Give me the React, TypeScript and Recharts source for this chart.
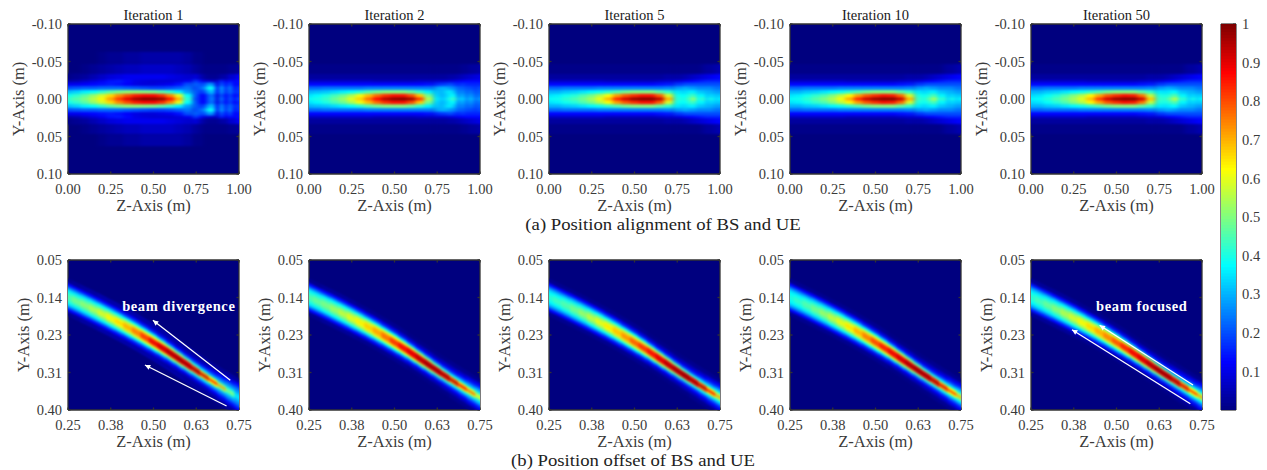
import { CartesianGrid, ReferenceDot, ReferenceLine, Scatter, ScatterChart, XAxis, YAxis } from "recharts";

const FONT = "'Liberation Serif', 'Times New Roman', serif";
const TEXT = "#3a3a3a";
const FRAME = "#333333";

// jet colormap stops: [value, r, g, b]
const jetStops = [
  [0, 0, 0, 127],
  [0.125, 0, 0, 255],
  [0.375, 0, 255, 255],
  [0.625, 255, 255, 0],
  [0.875, 255, 0, 0],
  [1, 127, 0, 0],
];

const topTitles = ["Iteration 1", "Iteration 2", "Iteration 5", "Iteration 10", "Iteration 50"];
const topYTicks = [-0.1, -0.05, 0, 0.05, 0.1];
const topYLabels = ["-0.10", "-0.05", "0.00", "0.05", "0.10"];
const topXTicks = [0, 0.25, 0.5, 0.75, 1];
const topXLabels = ["0.00", "0.25", "0.50", "0.75", "1.00"];
const botYTicks = [0.05, 0.1375, 0.225, 0.3125, 0.4];
const botYLabels = ["0.05", "0.14", "0.23", "0.31", "0.40"];
const botXTicks = [0.25, 0.375, 0.5, 0.625, 0.75];
const botXLabels = ["0.25", "0.38", "0.50", "0.63", "0.75"];
const barTicks = [0.1, 0.2, 0.3, 0.4, 0.5, 0.6, 0.7, 0.8, 0.9, 1];
const barLabels = ["0.1", "0.2", "0.3", "0.4", "0.5", "0.6", "0.7", "0.8", "0.9", "1"];

// row = |y| offset from axis, one list of percent values per offset
const topZ = [0, 0.05, 0.1, 0.15, 0.2, 0.25, 0.3, 0.35, 0.4, 0.45, 0.5, 0.55, 0.6, 0.65, 0.7, 0.75, 0.775, 0.8, 0.825, 0.85, 0.875, 0.9, 0.925, 0.95, 0.975, 1];
const topOffsets = [0, 0.005, 0.01, 0.015, 0.02, 0.025, 0.03, 0.04, 0.055];

const iter1Top = [
  [43, 46, 50, 56, 63, 72, 82, 90, 97, 100, 100, 98, 86, 70, 42, 20, 14, 12, 22, 26, 10, 26, 12, 22, 14, 20],
  [39, 42, 46, 52, 58, 66, 74, 80, 85, 87, 87, 83, 74, 60, 38, 22, 14, 12, 22, 24, 10, 22, 12, 20, 12, 16],
  [31, 33, 36, 38, 42, 46, 49, 51, 51, 50, 49, 46, 42, 36, 28, 22, 18, 20, 30, 32, 14, 28, 16, 24, 16, 18],
  [20, 21, 22, 22, 23, 23, 23, 22, 21, 20, 19, 19, 20, 22, 24, 20, 22, 26, 38, 38, 14, 30, 16, 26, 14, 18],
  [11, 11, 12, 13, 14, 15, 14, 12, 10, 9, 9, 10, 11, 14, 20, 22, 20, 20, 28, 26, 10, 22, 14, 20, 12, 14],
  [4, 5, 7, 9, 11, 14, 15, 13, 10, 9, 8, 8, 8, 9, 11, 18, 14, 9, 9, 7, 8, 16, 10, 14, 12, 14],
  [1, 2, 3, 5, 7, 9, 10, 11, 11, 11, 11, 11, 10, 9, 8, 9, 6, 3, 2, 2, 2, 4, 4, 8, 8, 12],
  [0, 0, 1, 2, 3, 4, 5, 6, 6, 7, 7, 7, 7, 6, 5, 3, 2, 1, 1, 1, 1, 1, 1, 2, 2, 3],
  [0, 0, 0, 0, 1, 2, 2, 3, 3, 4, 4, 4, 4, 4, 3, 1, 1, 0, 0, 0, 0, 0, 0, 0, 0, 0],
];
const iter2Top = [
  [38, 40, 43, 48, 53, 60, 67, 77, 87, 95, 99, 100, 97, 82, 55, 36, 32, 34, 40, 44, 30, 34, 26, 32, 24, 28],
  [35, 37, 40, 44, 48, 54, 61, 69, 77, 83, 86, 86, 80, 68, 48, 34, 30, 32, 36, 38, 26, 30, 24, 28, 22, 24],
  [30, 31, 32, 34, 36, 38, 41, 45, 48, 50, 50, 50, 47, 42, 36, 32, 30, 33, 36, 32, 24, 26, 22, 24, 20, 22],
  [23, 23, 24, 24, 24, 24, 24, 25, 25, 25, 25, 25, 25, 25, 25, 28, 30, 30, 28, 26, 22, 22, 20, 20, 18, 20],
  [13, 13, 13, 13, 13, 13, 13, 13, 13, 13, 13, 13, 13, 13, 14, 16, 18, 18, 20, 18, 16, 18, 16, 16, 16, 16],
  [7, 7, 7, 7, 7, 7, 7, 7, 6, 6, 6, 6, 6, 7, 7, 8, 8, 8, 9, 10, 11, 12, 13, 13, 13, 13],
  [3, 3, 3, 3, 3, 3, 3, 3, 3, 3, 3, 3, 3, 3, 3, 3, 3, 3, 4, 4, 5, 6, 7, 8, 9, 10],
  [1, 1, 1, 1, 1, 1, 1, 1, 1, 1, 1, 1, 1, 1, 1, 1, 1, 1, 1, 1, 1, 2, 2, 3, 3, 4],
];
const iter5Top = [
  [38, 39, 42, 45, 49, 54, 61, 70, 84, 92, 98, 100, 100, 94, 70, 42, 40, 40, 46, 54, 38, 44, 34, 40, 34, 36],
  [35, 36, 39, 41, 45, 49, 55, 62, 72, 79, 83, 86, 86, 78, 58, 40, 38, 38, 42, 44, 36, 38, 32, 34, 32, 32],
  [30, 30, 32, 33, 35, 37, 39, 42, 45, 48, 50, 50, 50, 46, 42, 36, 34, 34, 36, 36, 32, 32, 30, 30, 28, 28],
  [23, 23, 24, 24, 24, 24, 25, 25, 25, 25, 25, 25, 25, 25, 26, 28, 28, 30, 28, 28, 26, 26, 26, 26, 24, 24],
  [13, 13, 13, 13, 13, 13, 13, 13, 13, 13, 13, 13, 13, 14, 15, 18, 18, 20, 20, 20, 20, 20, 20, 20, 20, 20],
  [7, 7, 7, 7, 7, 7, 7, 6, 6, 6, 6, 6, 6, 7, 8, 9, 10, 11, 12, 13, 14, 15, 16, 16, 16, 16],
  [3, 3, 3, 3, 3, 3, 3, 3, 3, 3, 3, 3, 3, 3, 4, 4, 4, 5, 6, 7, 8, 9, 10, 11, 12, 13],
  [1, 1, 1, 1, 1, 1, 1, 1, 1, 1, 1, 1, 1, 1, 1, 1, 1, 1, 1, 1, 1, 2, 3, 3, 4, 5],
];
const iter10Top = [
  [38, 39, 42, 46, 50, 55, 62, 71, 84, 93, 98, 100, 100, 93, 70, 44, 41, 42, 50, 56, 40, 44, 34, 40, 34, 37],
  [35, 36, 39, 42, 45, 50, 56, 63, 72, 79, 83, 86, 85, 77, 58, 41, 39, 39, 43, 45, 36, 38, 32, 34, 32, 32],
  [30, 30, 32, 33, 35, 37, 39, 42, 45, 48, 50, 50, 50, 46, 42, 36, 34, 34, 36, 36, 32, 32, 30, 30, 28, 28],
  [23, 23, 24, 24, 24, 24, 25, 25, 25, 25, 25, 25, 25, 25, 26, 28, 28, 30, 28, 28, 26, 26, 26, 26, 24, 24],
  [13, 13, 13, 13, 13, 13, 13, 13, 13, 13, 13, 13, 13, 14, 15, 18, 18, 20, 20, 20, 20, 20, 20, 20, 20, 20],
  [7, 7, 7, 7, 7, 7, 7, 6, 6, 6, 6, 6, 6, 7, 8, 9, 10, 11, 12, 13, 14, 15, 16, 16, 16, 16],
  [3, 3, 3, 3, 3, 3, 3, 3, 3, 3, 3, 3, 3, 3, 4, 4, 4, 5, 6, 7, 8, 9, 10, 11, 12, 13],
  [1, 1, 1, 1, 1, 1, 1, 1, 1, 1, 1, 1, 1, 1, 1, 1, 1, 1, 1, 1, 1, 2, 3, 3, 4, 5],
];
const iter50Top = [
  [37, 38, 41, 45, 49, 54, 60, 69, 82, 92, 98, 100, 100, 92, 68, 44, 42, 44, 52, 58, 40, 44, 34, 40, 34, 38],
  [34, 35, 38, 41, 45, 50, 55, 63, 71, 79, 83, 86, 85, 76, 56, 41, 40, 40, 44, 46, 36, 38, 32, 34, 32, 33],
  [30, 30, 32, 33, 35, 37, 39, 42, 45, 48, 50, 50, 50, 46, 42, 36, 35, 35, 37, 37, 32, 32, 30, 30, 28, 28],
  [23, 23, 24, 24, 24, 24, 25, 25, 25, 25, 25, 25, 25, 25, 26, 28, 28, 30, 29, 28, 26, 26, 26, 26, 24, 24],
  [13, 13, 13, 13, 13, 13, 13, 13, 13, 13, 13, 13, 13, 14, 15, 18, 18, 20, 20, 20, 20, 20, 20, 20, 20, 20],
  [7, 7, 7, 7, 7, 7, 7, 6, 6, 6, 6, 6, 6, 7, 8, 9, 10, 11, 12, 13, 14, 15, 16, 16, 16, 16],
  [3, 3, 3, 3, 3, 3, 3, 3, 3, 3, 3, 3, 3, 3, 4, 4, 4, 5, 6, 7, 8, 9, 10, 11, 12, 13],
  [1, 1, 1, 1, 1, 1, 1, 1, 1, 1, 1, 1, 1, 1, 1, 1, 1, 1, 1, 1, 1, 2, 3, 3, 4, 5],
];

// offset beam: centre line per column, then profile across it
const botZ = [0.25, 0.275, 0.3, 0.325, 0.35, 0.375, 0.4, 0.425, 0.45, 0.475, 0.5, 0.525, 0.55, 0.575, 0.6, 0.625, 0.65, 0.675, 0.7, 0.725, 0.75];
const beamCenter = [0.137, 0.1465, 0.156, 0.1658, 0.1758, 0.186, 0.1965, 0.2073, 0.2185, 0.2301, 0.2421, 0.2546, 0.2676, 0.2811, 0.2946, 0.3081, 0.3213, 0.3341, 0.3466, 0.3588, 0.3708];
const botOffsets = [0, 0.006, 0.012, 0.018, 0.024, 0.03, 0.04];

const iter1Bot = [
  [46, 49, 52, 55, 59, 63, 67, 71, 76, 83, 90, 94, 98, 100, 100, 100, 95, 86, 72, 52, 36],
  [44, 47, 49, 52, 56, 60, 63, 67, 72, 78, 84, 88, 90, 90, 88, 82, 72, 62, 50, 42, 33],
  [40, 41, 43, 45, 47, 50, 52, 55, 58, 60, 60, 58, 55, 51, 46, 40, 36, 32, 30, 30, 28],
  [34, 34, 35, 36, 37, 38, 38, 38, 38, 37, 36, 33, 30, 27, 24, 21, 20, 20, 22, 24, 24],
  [23, 23, 24, 24, 24, 24, 23, 22, 21, 20, 18, 16, 14, 12, 11, 10, 10, 12, 14, 16, 18],
  [12, 12, 12, 12, 12, 12, 12, 11, 11, 10, 9, 8, 7, 6, 5, 5, 5, 6, 8, 10, 12],
  [2, 3, 4, 4, 5, 5, 5, 5, 5, 5, 5, 5, 5, 5, 4, 4, 3, 3, 3, 4, 4],
];
const iter2Bot = [
  [46, 48, 50, 53, 57, 60, 64, 68, 72, 77, 83, 88, 92, 96, 99, 100, 100, 96, 88, 78, 62],
  [44, 46, 48, 51, 54, 58, 61, 65, 69, 74, 79, 84, 87, 90, 91, 90, 85, 76, 67, 58, 48],
  [40, 41, 43, 45, 47, 50, 53, 56, 59, 60, 61, 60, 58, 55, 51, 46, 42, 38, 36, 34, 34],
  [35, 35, 36, 37, 38, 39, 39, 39, 39, 38, 37, 35, 32, 29, 26, 23, 21, 20, 22, 24, 26],
  [24, 24, 24, 25, 25, 25, 24, 23, 22, 20, 19, 17, 15, 13, 12, 11, 11, 12, 13, 15, 16],
  [13, 13, 13, 13, 13, 12, 12, 11, 11, 10, 9, 8, 7, 6, 6, 5, 6, 6, 7, 9, 10],
  [2, 2, 3, 3, 3, 3, 2, 2, 2, 2, 2, 2, 1, 1, 1, 1, 1, 2, 2, 2, 2],
];
const iter5Bot = [
  [42, 44, 46, 49, 53, 57, 61, 65, 69, 74, 79, 84, 88, 92, 96, 99, 100, 100, 97, 88, 72],
  [40, 42, 44, 47, 50, 54, 58, 62, 66, 70, 75, 79, 83, 87, 90, 91, 91, 86, 78, 66, 54],
  [37, 38, 40, 42, 44, 47, 50, 52, 55, 57, 58, 58, 57, 55, 52, 48, 44, 40, 38, 36, 36],
  [32, 32, 33, 34, 35, 37, 38, 38, 38, 38, 37, 35, 32, 29, 26, 23, 21, 20, 22, 24, 26],
  [23, 23, 23, 24, 24, 24, 24, 23, 22, 20, 19, 17, 15, 13, 12, 11, 11, 12, 13, 15, 16],
  [12, 12, 12, 12, 12, 12, 12, 11, 11, 10, 9, 8, 7, 6, 6, 5, 6, 6, 7, 9, 10],
  [2, 2, 2, 2, 2, 2, 2, 2, 2, 2, 2, 2, 1, 1, 1, 1, 1, 2, 2, 2, 2],
];
const iter10Bot = [
  [41, 43, 46, 49, 53, 57, 61, 66, 71, 76, 81, 86, 90, 94, 98, 100, 100, 98, 91, 83, 70],
  [39, 41, 44, 47, 50, 54, 58, 62, 67, 72, 77, 81, 85, 88, 90, 91, 89, 82, 72, 62, 52],
  [37, 38, 40, 42, 44, 47, 50, 53, 56, 58, 59, 59, 58, 55, 52, 47, 43, 40, 38, 36, 36],
  [32, 32, 33, 34, 35, 37, 38, 38, 38, 38, 37, 35, 32, 29, 26, 23, 21, 20, 22, 24, 26],
  [23, 23, 23, 24, 24, 24, 24, 23, 22, 20, 19, 17, 15, 13, 12, 11, 11, 12, 13, 15, 16],
  [12, 12, 12, 12, 12, 12, 12, 11, 11, 10, 9, 8, 7, 6, 6, 5, 6, 6, 7, 9, 10],
  [2, 2, 2, 2, 2, 2, 2, 2, 2, 2, 2, 2, 1, 1, 1, 1, 1, 2, 2, 2, 2],
];
const iter50Bot = [
  [42, 45, 48, 51, 55, 59, 63, 67, 71, 75, 80, 85, 89, 93, 97, 100, 100, 99, 92, 84, 72],
  [41, 43, 46, 49, 53, 56, 60, 64, 68, 72, 76, 81, 85, 88, 90, 91, 90, 84, 74, 62, 54],
  [38, 39, 41, 43, 46, 49, 52, 54, 56, 58, 59, 58, 57, 55, 52, 48, 44, 41, 38, 37, 36],
  [33, 34, 35, 36, 37, 38, 38, 38, 38, 38, 37, 35, 32, 29, 26, 23, 21, 21, 22, 24, 26],
  [25, 25, 25, 25, 25, 25, 24, 23, 22, 20, 19, 17, 15, 13, 12, 11, 11, 12, 13, 15, 17],
  [14, 14, 14, 13, 13, 13, 12, 11, 11, 10, 9, 8, 7, 6, 6, 6, 6, 7, 8, 9, 11],
  [3, 3, 3, 3, 3, 3, 2, 2, 2, 2, 2, 2, 1, 1, 1, 1, 1, 2, 2, 2, 2],
];

// white annotations in data units: [zFrom, yFrom, zTo, yTo]
const divergenceArrows = [
  [0.7246, 0.3307, 0.4982, 0.1907],
  [0.7137, 0.3907, 0.4749, 0.295],
];
const focusedArrows = [
  [0.7237, 0.3417, 0.4506, 0.2024],
  [0.7159, 0.3853, 0.3699, 0.2126],
];

const colorLevels = Array.from({ length: 129 }, (_, i) => i / 128);

const topLefts = [68.4, 308.7, 549.3, 790, 1030.7];
const PLOT_W = 171;
const PLOT_H = 150;
const ML = 62;
const MT = 22;
const MR = 22;
const MB = 52;
const OVERHANG = 14;

function jet(v: number) {
  for (let i = 1; i < jetStops.length; i++) {
    const [v1, r1, g1, b1] = jetStops[i];
    if (v <= v1) {
      const [v0, r0, g0, b0] = jetStops[i - 1];
      const t = (v - v0) / (v1 - v0);
      return `rgb(${Math.round(r0 + (r1 - r0) * t)},${Math.round(g0 + (g1 - g0) * t)},${Math.round(b0 + (b1 - b0) * t)})`;
    }
  }
  return "rgb(127,0,0)";
}

function halfStep(list: number[], i: number) {
  const prev = i > 0 ? list[i - 1] : list[i] - (list[i + 1] - list[i]);
  const next = i < list.length - 1 ? list[i + 1] : list[i] + (list[i] - list[i - 1]);
  return (next - prev) / 4;
}

// mirrored rows around y = 0
function topCells(rows: number[][]) {
  const cells: any[] = [];
  rows.forEach((row, r) => {
    row.forEach((v, c) => {
      if (v === 0) return;
      const signs = r === 0 ? [1] : [1, -1];
      signs.forEach((s) => {
        cells.push({
          z: topZ[c],
          y: s * topOffsets[r],
          v: v / 100,
          halfZ: halfStep(topZ, c),
          halfY: r === 0 ? 0.0025 : halfStep(topOffsets, r),
          slope: 0,
          first: c === 0,
          last: c === topZ.length - 1,
        });
      });
    });
  });
  return cells;
}

// same profile either side of the beam centre, sheared along the beam
function botCells(rows: number[][]) {
  const cells: any[] = [];
  rows.forEach((row, r) => {
    row.forEach((v, c) => {
      if (v === 0) return;
      const a = Math.max(c - 1, 0);
      const b = Math.min(c + 1, botZ.length - 1);
      const slope = ((beamCenter[b] - beamCenter[a]) / (botZ[b] - botZ[a])) * (PLOT_H / 0.35) / (PLOT_W / 0.5);
      const signs = r === 0 ? [1] : [1, -1];
      signs.forEach((s) => {
        cells.push({
          z: botZ[c],
          y: beamCenter[c] + s * botOffsets[r],
          v: v / 100,
          halfZ: 0.0125,
          halfY: 0.003,
          slope,
          first: c === 0,
          last: c === botZ.length - 1,
        });
      });
    });
  });
  return cells;
}

function heatShape(pxZ: number, pxY: number) {
  return (props: any) => {
    const { cx, cy, payload } = props;
    const p = payload;
    const w = p.halfZ * 2 * pxZ + 0.8;
    const h = p.halfY * 2 * pxY + 0.6;
    const l = p.first ? OVERHANG : 0;
    const rr = p.last ? OVERHANG : 0;
    if (p.slope) {
      const deg = (Math.atan(p.slope) * 180) / Math.PI;
      return (
        <rect
          x={-w / 2 - l}
          y={-h / 2}
          width={w + l + rr}
          height={h}
          fill={jet(p.v)}
          transform={`translate(${cx} ${cy}) skewY(${deg})`}
        />
      );
    }
    return <rect x={cx - w / 2 - l} y={cy - h / 2} width={w + l + rr} height={h} fill={jet(p.v)} />;
  };
}

function arrowShape(props: any) {
  const { x1, y1, x2, y2 } = props;
  const a = Math.atan2(y2 - y1, x2 - x1);
  const len = 6;
  const spread = 0.45;
  const pts = [
    [x2, y2],
    [x2 - len * Math.cos(a - spread), y2 - len * Math.sin(a - spread)],
    [x2 - len * Math.cos(a + spread), y2 - len * Math.sin(a + spread)],
  ]
    .map((q) => q.join(","))
    .join(" ");
  return (
    <g>
      <line x1={x1} y1={y1} x2={x2} y2={y2} stroke="#ffffff" strokeWidth={1.3} />
      <polygon points={pts} fill="#ffffff" />
    </g>
  );
}

const noMark = () => null;
const tickStyle = { fill: TEXT, fontSize: 14.5, fontFamily: FONT };
const axisLabelStyle = { fill: TEXT, fontSize: 16.5, fontFamily: FONT };

interface PanelProps {
  left: number;
  top: number;
  cells: any[];
  zDomain: number[];
  yDomain: number[];
  zTicks: number[];
  yTicks: number[];
  zLabels: string[];
  yLabels: string[];
  title?: string;
  yLabelOffset: number;
  heatClass: string;
  arrows?: number[][];
  note?: string;
}

function Panel({ left, top, cells, zDomain, yDomain, zTicks, yTicks, zLabels, yLabels, title, yLabelOffset, heatClass, arrows, note }: PanelProps) {
  const pxZ = PLOT_W / (zDomain[1] - zDomain[0]);
  const pxY = PLOT_H / (yDomain[1] - yDomain[0]);
  const frame = { stroke: FRAME, strokeWidth: 1.3 };
  return (
    <div style={{ position: "absolute", left: left - ML, top: top - MT }}>
      <ScatterChart
        width={ML + PLOT_W + MR}
        height={MT + PLOT_H + MB}
        margin={{ left: ML - 1, top: MT - 1, right: MR - 1, bottom: MB - 1 }}
        style={{ overflow: "visible" }}
      >
        <CartesianGrid horizontal={false} vertical={false} fill="#00007f" stroke="none" />
        <Scatter data={cells} dataKey="y" className={heatClass} isAnimationActive={false} shape={heatShape(pxZ, pxY)} />
        <Scatter data={cells.slice(0, 1)} dataKey="y" xAxisId="top" yAxisId="right" isAnimationActive={false} shape={noMark} />
        <XAxis
          type="number"
          dataKey="z"
          domain={zDomain}
          ticks={zTicks}
          interval={0}
          height={1}
          allowDataOverflow
          tickSize={-2.5}
          tickMargin={12}
          tick={tickStyle}
          tickLine={frame}
          axisLine={frame}
          tickFormatter={(_: any, i: number) => zLabels[i]}
          label={{ value: "Z-Axis (m)", position: "bottom", offset: 24, style: axisLabelStyle }}
        />
        <XAxis
          xAxisId="top"
          orientation="top"
          type="number"
          dataKey="z"
          domain={zDomain}
          ticks={zTicks}
          interval={0}
          height={1}
          allowDataOverflow
          tickSize={-2.5}
          tickLine={frame}
          axisLine={frame}
          tickFormatter={() => ""}
          label={title ? { value: title, position: "top", offset: 3, style: { fill: "#1a1a1a", fontSize: 14.5, fontFamily: FONT } } : undefined}
        />
        <YAxis
          type="number"
          dataKey="y"
          domain={yDomain}
          ticks={yTicks}
          reversed
          interval={0}
          width={1}
          allowDataOverflow
          tickSize={-2.5}
          tickMargin={8.5}
          tick={tickStyle}
          tickLine={frame}
          axisLine={frame}
          tickFormatter={(_: any, i: number) => yLabels[i]}
          label={{ value: "Y-Axis (m)", angle: -90, position: "left", offset: yLabelOffset, style: { ...axisLabelStyle, textAnchor: "middle" } }}
        />
        <YAxis
          yAxisId="right"
          orientation="right"
          type="number"
          dataKey="y"
          domain={yDomain}
          ticks={yTicks}
          reversed
          interval={0}
          width={1}
          allowDataOverflow
          tickSize={-2.5}
          tickLine={frame}
          axisLine={frame}
          tickFormatter={() => ""}
        />
        {(arrows || []).map((a, i) => (
          <ReferenceLine
            key={i}
            segment={[
              { x: a[0], y: a[1] },
              { x: a[2], y: a[3] },
            ]}
            shape={arrowShape}
            zIndex={900}
          />
        ))}
        {note && (
          <ReferenceDot
            x={0.574}
            y={0.158}
            r={0}
            fill="none"
            stroke="none"
            zIndex={900}
            label={{ value: note, position: "center", style: { fill: "#ffffff", fontSize: 14.5, fontWeight: 700, fontFamily: FONT, letterSpacing: 0.6 } }}
          />
        )}
      </ScatterChart>
    </div>
  );
}

function ColorBar() {
  const left = 1221;
  const top = 24;
  const w = 15;
  const h = 386;
  const rows = colorLevels.map((v) => ({ x: 0.5, v }));
  const frame = { stroke: "#444444", strokeWidth: 1.3 };
  const shape = (props: any) => (
    <rect x={props.cx - w / 2} y={props.cy - h / 256 - 0.5} width={w} height={h / 128 + 1} fill={jet(props.payload.v)} />
  );
  return (
    <div style={{ position: "absolute", left: left - 10, top: top - 10 }}>
      <ScatterChart width={w + 46} height={h + 20} margin={{ left: 9, top: 9, right: 35, bottom: 9 }} style={{ overflow: "visible" }}>
        <Scatter data={rows} dataKey="v" isAnimationActive={false} shape={shape} />
        <Scatter data={rows.slice(0, 1)} dataKey="v" xAxisId="top" yAxisId="right" isAnimationActive={false} shape={noMark} />
        <XAxis type="number" dataKey="x" domain={[0, 1]} height={1} tick={false} tickLine={false} axisLine={frame} allowDataOverflow />
        <XAxis xAxisId="top" orientation="top" type="number" dataKey="x" domain={[0, 1]} height={1} tick={false} tickLine={false} axisLine={frame} allowDataOverflow />
        <YAxis type="number" dataKey="v" domain={[0, 1]} width={1} tick={false} tickLine={false} axisLine={frame} allowDataOverflow />
        <YAxis
          yAxisId="right"
          orientation="right"
          type="number"
          dataKey="v"
          domain={[0, 1]}
          ticks={barTicks}
          interval={0}
          width={1}
          allowDataOverflow
          tickSize={-3}
          tickMargin={9}
          tick={{ ...tickStyle, textAnchor: "start" }}
          tickLine={frame}
          axisLine={frame}
          tickFormatter={(_: any, i: number) => barLabels[i]}
        />
      </ScatterChart>
    </div>
  );
}

const captionStyle: any = {
  position: "absolute",
  fontFamily: FONT,
  fontSize: 17,
  color: "#222222",
  whiteSpace: "nowrap",
  transform: "translateX(-50%) scaleX(1.1)",
  lineHeight: "18px",
};

export default function App() {
  const top = topTitles.map((t, i) => ({ title: t, left: topLefts[i] }));
  const topData = [iter1Top, iter2Top, iter5Top, iter10Top, iter50Top];
  const botData = [iter1Bot, iter2Bot, iter5Bot, iter10Bot, iter50Bot];
  return (
    <div style={{ position: "absolute", left: 0, top: 0, width: 1267, height: 470, overflow: "hidden", background: "#ffffff" }}>
      <style>{`.heat-top{filter:url(#blurTop)} .heat-bot{filter:url(#blurBot)}`}</style>
      <svg width={0} height={0} style={{ position: "absolute" }}>
        <defs>
          <filter id="blurTop" x="-10%" y="-10%" width="120%" height="120%" colorInterpolationFilters="sRGB">
            <feGaussianBlur stdDeviation="2 1" />
          </filter>
          <filter id="blurBot" x="-10%" y="-10%" width="120%" height="120%" colorInterpolationFilters="sRGB">
            <feGaussianBlur stdDeviation="0.8" />
          </filter>
        </defs>
      </svg>
      {top.map((p, i) => (
        <Panel
          key={p.title}
          left={p.left}
          top={24}
          title={p.title}
          cells={topCells(topData[i])}
          zDomain={[0, 1]}
          yDomain={[-0.1, 0.1]}
          zTicks={topXTicks}
          yTicks={topYTicks}
          zLabels={topXLabels}
          yLabels={topYLabels}
          yLabelOffset={49}
          heatClass="heat-top"
        />
      ))}
      {top.map((p, i) => (
        <Panel
          key={p.title + "b"}
          left={p.left}
          top={260}
          cells={botCells(botData[i])}
          zDomain={[0.25, 0.75]}
          yDomain={[0.05, 0.4]}
          zTicks={botXTicks}
          yTicks={botYTicks}
          zLabels={botXLabels}
          yLabels={botYLabels}
          yLabelOffset={44}
          heatClass="heat-bot"
          arrows={i === 0 ? divergenceArrows : i === 4 ? focusedArrows : undefined}
          note={i === 0 ? "beam divergence" : i === 4 ? "beam focused" : undefined}
        />
      ))}
      <ColorBar />
      <div style={{ ...captionStyle, left: 663, top: 216 }}>(a) Position alignment of BS and UE</div>
      <div style={{ ...captionStyle, left: 633, top: 452 }}>(b) Position offset of BS and UE</div>
    </div>
  );
}
